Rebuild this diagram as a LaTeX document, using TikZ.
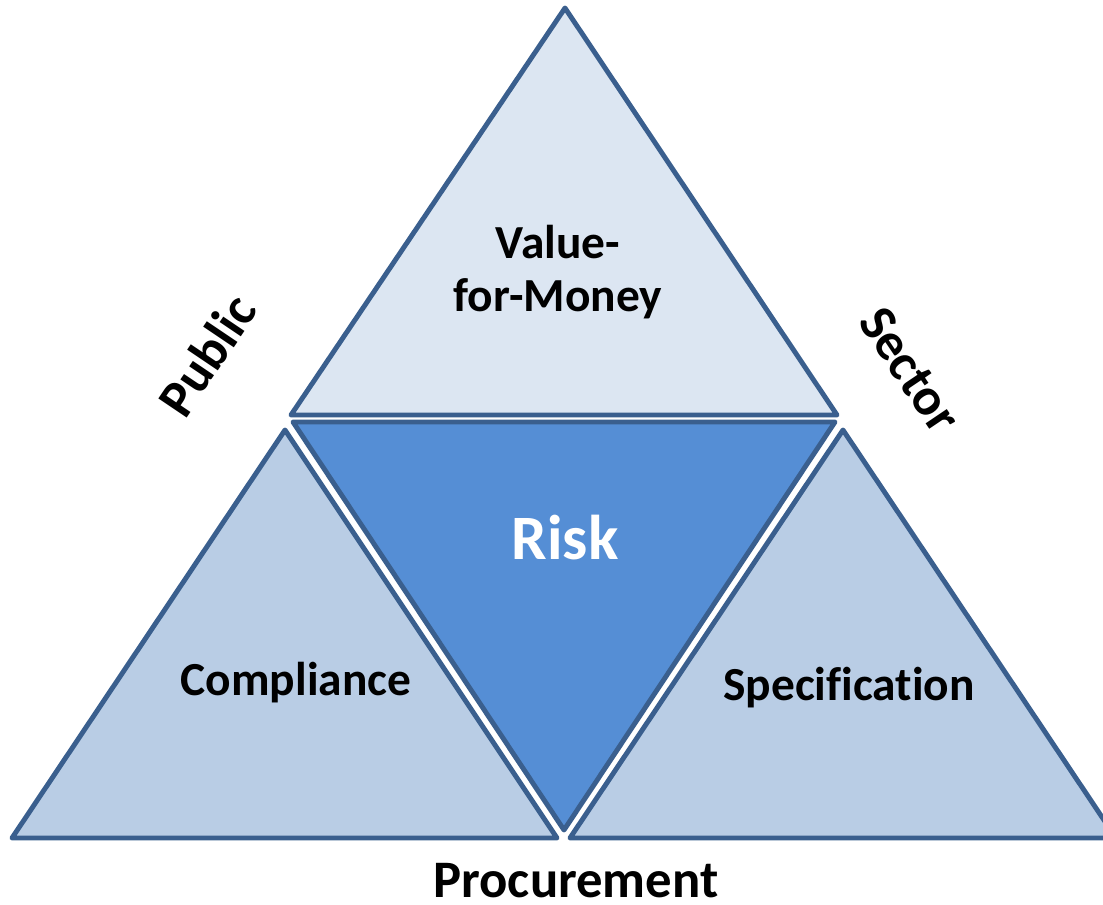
\documentclass[tikz,border=0pt]{standalone}
\usepackage{fontspec}
\setmainfont[Ligatures=NoCommon]{Carlito}
\definecolor{edgeblue}{HTML}{3A5F8E}
\definecolor{paleblue}{HTML}{DCE6F2}
\definecolor{sideblue}{HTML}{B9CDE5}
\definecolor{riskblue}{HTML}{558ED5}
\tikzset{
  tri/.style={draw=edgeblue, line width=2.8pt, line join=round},
  lbl/.style={font=\bfseries\fontsize{27}{30}\selectfont, align=center},
  outer/.style={font=\bfseries\fontsize{30}{33}\selectfont, inner sep=0pt}
}

\begin{document}
\begin{tikzpicture}[x=0.02cm, y=0.02cm]
  \useasboundingbox (0,0) rectangle (1103,904);

  % Four triangles
  \filldraw[tri, fill=paleblue] (565,896) -- (291,489) -- (837,489) -- cycle;  % top
  \filldraw[tri, fill=riskblue] (293,482) -- (835,482) -- (564,74) -- cycle;   % centre
  \filldraw[tri, fill=sideblue] (285,474) -- (12,66) -- (557,66) -- cycle;     % left
  \filldraw[tri, fill=sideblue] (843,474) -- (570,66) -- (1116,66) -- cycle;   % right

  % Labels inside
  \node[lbl] (vfm) at (558,632) {Value-\\for-Money};
  \node[lbl, text=white, font=\bfseries\fontsize{36}{40}\selectfont] (risk) at (565,366) {Risk};
  \node[lbl] (comp) at (296,221) {Compliance};
  \node[lbl] (spec) at (849,216) {Specification};

  % Labels outside
  \node[outer, rotate=56] (pub) at (207,549) {Public};
  \node[outer, rotate=-56] (sec) at (910,534) {Sector};
  \node[outer, anchor=base] (proc) at (576,7) {Procurement};
\end{tikzpicture}
\end{document}
